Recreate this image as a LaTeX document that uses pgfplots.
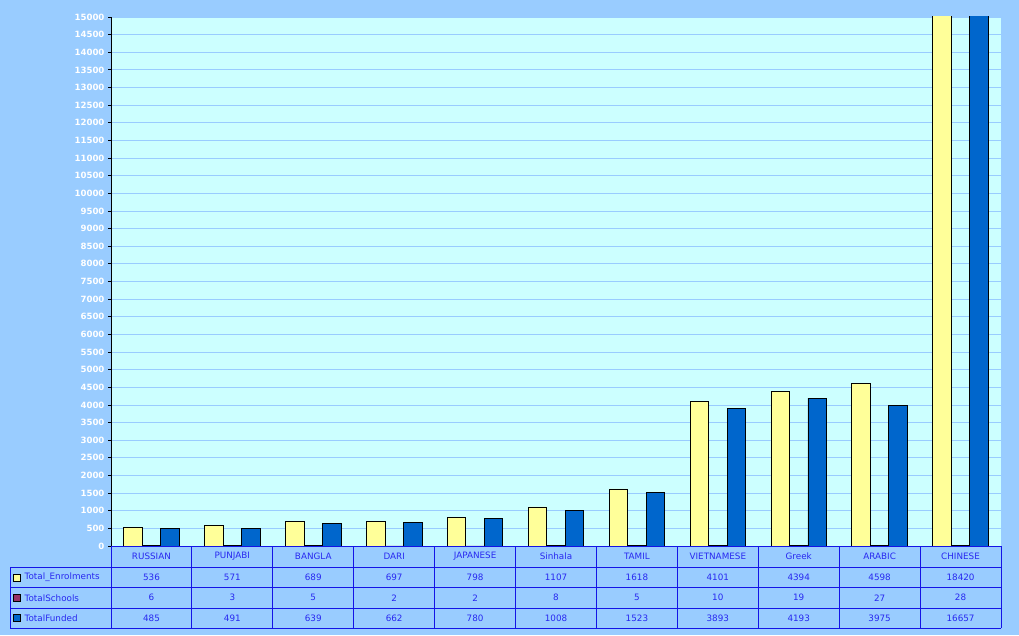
\documentclass[border=0pt]{standalone}
\usepackage{pgfplots}
\pgfplotsset{compat=1.18}
\usepackage{fontspec}
\setmainfont{DejaVu Sans}
\definecolor{bgblue}{HTML}{99CCFF}
\definecolor{plotbg}{HTML}{CCFFFF}
\definecolor{gridc}{HTML}{99CCFF}
\definecolor{cyel}{HTML}{FFFF99}
\definecolor{cmar}{HTML}{993366}
\definecolor{cblu}{HTML}{0066CC}
\definecolor{tabline}{RGB}{20,20,230}
\definecolor{tabtext}{RGB}{40,40,240}
\begin{document}
\begin{tikzpicture}[x=1pt,y=1pt]
\fill[bgblue] (0,0) rectangle (1019,635);
\begin{axis}[
  at={(111pt,89pt)}, anchor=south west,
  width=890pt, height=529pt, scale only axis,
  axis background/.style={fill=plotbg},
  xmin=-0.5, xmax=10.5, ymin=0, ymax=15000,
  xtick=\empty,
  ytick distance=500,
  scaled y ticks=false,
  ymajorgrids, grid style={gridc, line width=0.8pt},
  axis x line=none,
  axis y line*=left,
  axis line style={black, line width=0.8pt, -},
  ytick style={black, line width=0.8pt},
  tick align=outside, major tick length=3pt,
  yticklabel style={font=\fontsize{8.6}{9}\selectfont\bfseries, text=white},
  yticklabel={\pgfmathprintnumber[assume math mode=true, 1000 sep={}, fixed]{\tick}},
  ybar=0pt, bar width=18.5pt,
  every axis plot/.append style={draw=black, line width=0.8pt},
]
\addplot[fill=cyel] coordinates {(0,536) (1,571) (2,689) (3,697) (4,798) (5,1107) (6,1618) (7,4101) (8,4394) (9,4598) (10,18420)};
\addplot[fill=cmar] coordinates {(0,6) (1,3) (2,5) (3,2) (4,2) (5,8) (6,5) (7,10) (8,19) (9,27) (10,28)};
\addplot[fill=cblu] coordinates {(0,485) (1,491) (2,639) (3,662) (4,780) (5,1008) (6,1523) (7,3893) (8,4193) (9,3975) (10,16657)};
\end{axis}
% data table
\begin{scope}[tabline, line width=0.9pt]
\draw (111,89) -- (1001,89);
\foreach \yy in {68,47.5,27,7} \draw (10,\yy) -- (1001,\yy);
\draw (10,7) -- (10,68);
\foreach \k in {0,...,11} \draw ({111+\k*890/11},7) -- ({111+\k*890/11},89);
\end{scope}
\begin{scope}[every node/.style={font=\fontsize{8.8}{9}\selectfont, text=tabtext, inner sep=0pt}]
\foreach \n [count=\i from 0] in {RUSSIAN,PUNJABI,BANGLA,DARI,JAPANESE,Sinhala,TAMIL,VIETNAMESE,Greek,ARABIC,CHINESE}
  \node at ({111+(\i+0.5)*890/11},78.5) {\n};
\foreach \n [count=\i from 0] in {536,571,689,697,798,1107,1618,4101,4394,4598,18420}
  \node at ({111+(\i+0.5)*890/11},57.75) {\n};
\foreach \n [count=\i from 0] in {6,3,5,2,2,8,5,10,19,27,28}
  \node at ({111+(\i+0.5)*890/11},37.25) {\n};
\foreach \n [count=\i from 0] in {485,491,639,662,780,1008,1523,3893,4193,3975,16657}
  \node at ({111+(\i+0.5)*890/11},17) {\n};
\node[anchor=west] at (24.5,57.75) {Total\_Enrolments};
\node[anchor=west] at (24.5,37.25) {TotalSchools};
\node[anchor=west] at (24.5,17) {TotalFunded};
\end{scope}
\filldraw[fill=cyel, draw=black, line width=0.7pt] (13,54) rectangle (20,61);
\filldraw[fill=cmar, draw=black, line width=0.7pt] (13,33.75) rectangle (20,40.75);
\filldraw[fill=cblu, draw=black, line width=0.7pt] (13,13.5) rectangle (20,20.5);
\end{tikzpicture}
\end{document}
